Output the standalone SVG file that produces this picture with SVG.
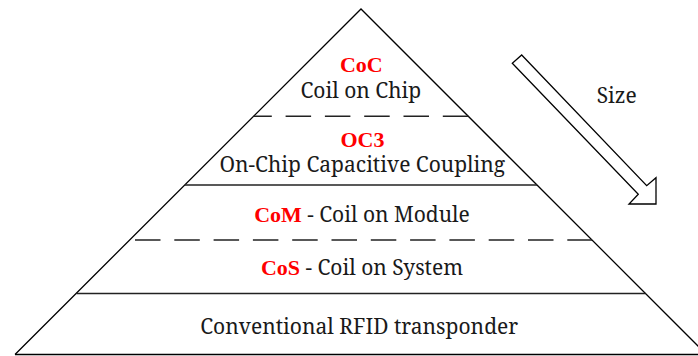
<svg xmlns="http://www.w3.org/2000/svg" width="698" height="356" viewBox="0 0 698 356">
  <style>
    .edge { fill: none; stroke: #000; stroke-width: 1.3; stroke-linejoin: miter; }
    .solid { fill: none; stroke: #222; stroke-width: 1.4; }
    .dash { fill: none; stroke: #222; stroke-width: 1.4; stroke-dasharray: 25.5 13.8; }
    text { font-size: 21px; fill: #1a1a1a; text-anchor: middle; }
    .hl { font-size: 22px; fill: #ff0000; font-weight: bold; }
  </style>
  <rect width="698" height="356" fill="#ffffff"/>

  <!-- pyramid outline -->
  <g id="pyramid">
    <polyline class="edge" points="15,354.5 361,9 706.5,354.5"/>
    <line class="edge" x1="15" y1="354.5" x2="698" y2="354.5"/>
  </g>

  <!-- tier separators -->
  <g id="separators">
    <line class="dash" x1="468.3" y1="116.3" x2="253.7" y2="116.3"/>
    <line class="solid" x1="185" y1="185" x2="537" y2="185"/>
    <line class="dash" x1="130" y1="240" x2="592" y2="240" stroke-dashoffset="34.3"/>
    <line class="solid" x1="76.5" y1="293.5" x2="645.5" y2="293.5"/>
  </g>

  <g id="tier-coc">
    <text class="hl" x="361.3" y="71.5" font-family="Liberation Serif">CoC</text>
    <text x="360.8" y="98" font-family="Noto Serif">Coil on Chip</text>
  </g>

  <g id="tier-oc3">
    <text class="hl" x="362.5" y="146.5" font-family="Liberation Serif">OC3</text>
    <text x="362.3" y="172" font-family="Noto Serif">On-Chip Capacitive Coupling</text>
  </g>

  <g id="tier-com">
    <text x="362" y="221.5" font-family="Noto Serif"><tspan class="hl" font-family="Liberation Serif">CoM</tspan> - Coil on Module</text>
  </g>

  <g id="tier-cos">
    <text x="362" y="275" font-family="Noto Serif"><tspan class="hl" font-family="Liberation Serif">CoS</tspan> - Coil on System</text>
  </g>

  <g id="tier-base">
    <text x="359.2" y="333.5" font-family="Noto Serif">Conventional RFID transponder</text>
  </g>

  <!-- size arrow -->
  <g id="size-arrow">
    <polygon class="edge" fill="#ffffff" points="521.7,55 646.7,185.7 656,177.7 656,204 629,204 638.3,194.3 512.3,63.3"/>
    <text x="616.7" y="103" font-family="Noto Serif">Size</text>
  </g>
</svg>
